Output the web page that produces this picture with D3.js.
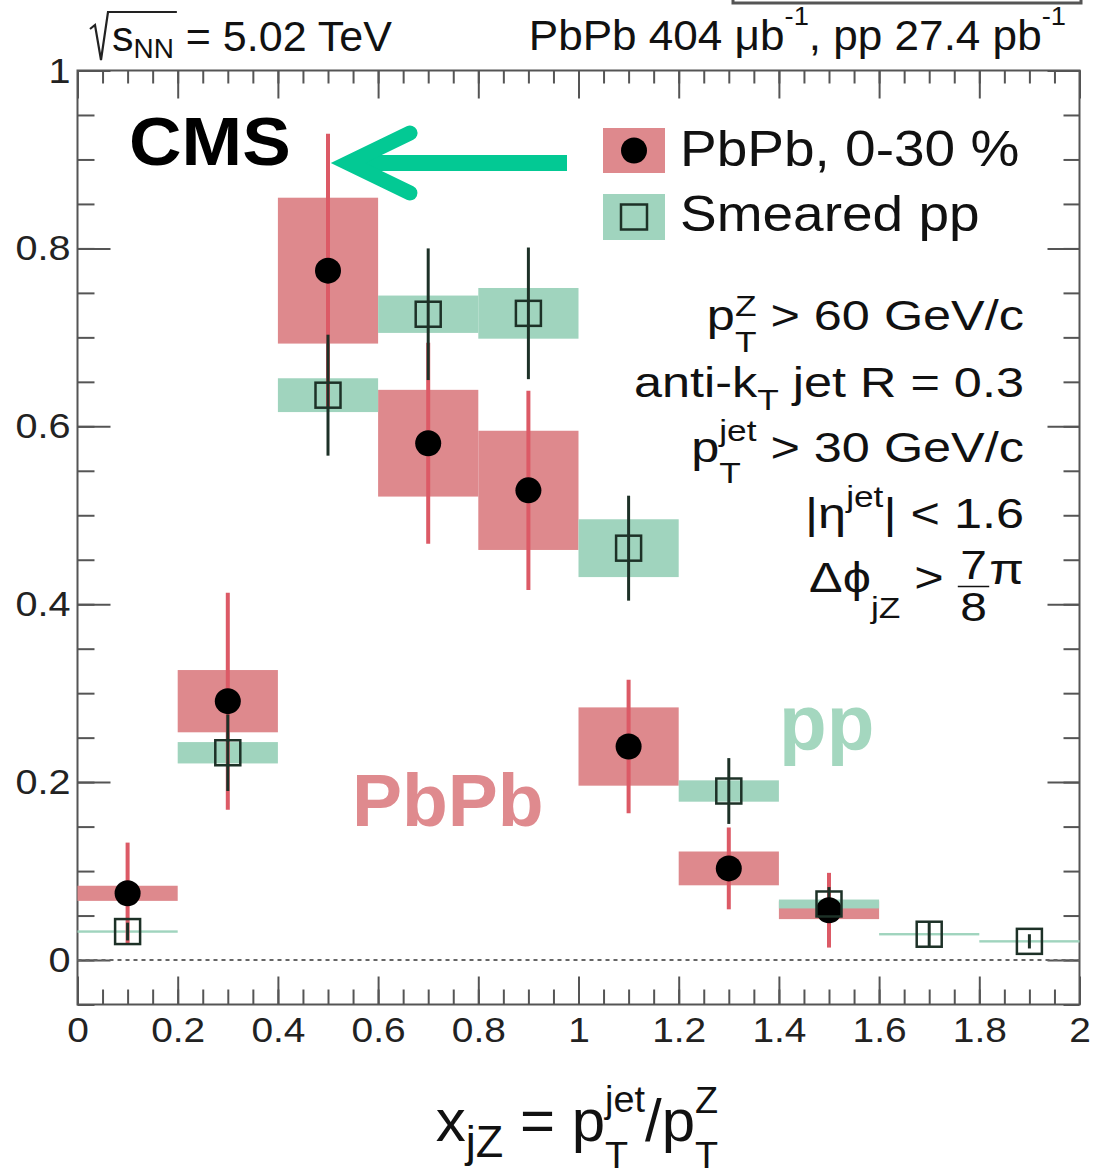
<!DOCTYPE html>
<html>
<head>
<meta charset="utf-8">
<script src="https://cdn.jsdelivr.net/npm/d3@7"></script>
<style>
  body { margin: 0; background: #fff; }
  svg { display: block; font-family: "Liberation Sans", Arial, Helvetica, sans-serif; }
</style>
</head>
<body>
<svg id="chart" width="1095" height="1170"></svg>
<script>
// ---------------------------------------------
// DATA
// ---------------------------------------------
var binCenters = [0.1, 0.3, 0.5, 0.7, 0.9, 1.1, 1.3, 1.5, 1.7, 1.9];
var binWidth = 0.2;

// PbPb 0-30 %  (first 8 bins)
var pbpbVal  = [0.075, 0.291, 0.775, 0.581, 0.528, 0.240, 0.103, 0.056];
var pbpbStat = [0.057, 0.122, 0.154, 0.113, 0.112, 0.075, 0.046, 0.042];
var pbpbSys  = [0.0085, 0.035, 0.082, 0.060, 0.067, 0.044, 0.019, 0.010];

// Smeared pp (all 10 bins)
var ppVal  = [0.032, 0.233, 0.635, 0.726, 0.727, 0.463, 0.190, 0.063, 0.029, 0.021];
var ppStat = [0.010, 0.043, 0.068, 0.074, 0.074, 0.059, 0.037, 0.019, 0.014, 0.008];
var ppSys  = [0.001, 0.012, 0.019, 0.021, 0.0285, 0.0325, 0.012, 0.005, 0.001, 0.001];

var xMajor = [0, 0.2, 0.4, 0.6, 0.8, 1, 1.2, 1.4, 1.6, 1.8, 2];
var yMajor = [0, 0.2, 0.4, 0.6, 0.8, 1];

var legendLabels = ["PbPb, 0-30 %", "Smeared pp"];

// ---------------------------------------------
// SETUP
// ---------------------------------------------
var svg = d3.select("#chart");
var frameL = 77.5, frameR = 1079.5, frameT = 70.5, frameB = 1004.5;

var x = d3.scaleLinear().domain([0, 2]).range([frameL, frameR]);
var y = d3.scaleLinear().domain([-0.05, 1]).range([frameB, frameT]);

var pinkBox = "#de898d", greenBox = "#a0d4be";
var redLine = "#dc5a66", darkLine = "#1d3127";

// rich text helper: plain strings, {sup, sub}, {frac}
function rich(parent, x0, y0, parts, o) {
  var fs = o.fs, sx = o.sx || 1;
  var g = parent.append("g").attr("font-size", fs).attr("fill", o.fill || "#111")
      .attr("font-weight", o.weight || "normal");
  var cx = 0, ends = [];
  parts.forEach(function(p) {
    if (typeof p === "string") {
      var t = g.append("text").attr("x", cx).attr("y", 0).attr("xml:space", "preserve").text(p);
      cx += t.node().getComputedTextLength();
    } else if (p.frac) {
      var s = (p.size || 1) * fs;
      var a = g.append("text").attr("y", p.numY * fs).attr("font-size", s).text(p.frac[0]);
      var b = g.append("text").attr("y", p.denY * fs).attr("font-size", s).text(p.frac[1]);
      var la = a.node().getComputedTextLength(), lb = b.node().getComputedTextLength();
      var w = Math.max(la, lb) + 4;
      a.attr("x", cx + (w - la) / 2);
      b.attr("x", cx + (w - lb) / 2);
      g.append("line").attr("x1", cx).attr("x2", cx + w)
        .attr("y1", p.barY * fs).attr("y2", p.barY * fs)
        .attr("stroke", o.fill || "#111").attr("stroke-width", 1.5);
      cx += w;
    } else if (p.raise !== undefined) {
      var t2 = g.append("text").attr("x", cx).attr("y", p.raise * fs).text(p.text);
      cx += t2.node().getComputedTextLength();
    } else {
      var w2 = 0, sz = (p.size || 0.7) * fs;
      if (p.sup) {
        var ts = g.append("text").attr("x", cx).attr("y", (p.supY !== undefined ? p.supY : -0.42) * fs)
          .attr("font-size", sz).text(p.sup);
        w2 = Math.max(w2, ts.node().getComputedTextLength());
      }
      if (p.sub) {
        var tb = g.append("text").attr("x", cx).attr("y", (p.subY !== undefined ? p.subY : 0.5) * fs)
          .attr("font-size", sz).text(p.sub);
        w2 = Math.max(w2, tb.node().getComputedTextLength());
      }
      cx += w2 + (p.gap || 0);
    }
    ends.push(cx);
  });
  var off = o.anchor === "end" ? -cx * sx : (o.anchor === "middle" ? -cx * sx / 2 : 0);
  g.attr("transform", "translate(" + (x0 + off) + "," + y0 + ") scale(" + sx + ",1)");
  return ends.map(function(e) { return x0 + off + e * sx; });
}

// ---------------------------------------------
// AXES + FRAME
// ---------------------------------------------
var xMinor = d3.range(0, 2.0001, 0.05);
var yMinor = d3.range(-0.05, 1.0001, 0.05);

function styleAxis(g) {
  g.select(".domain").remove();
  g.selectAll("line").attr("stroke", "#555").attr("stroke-width", 2);
  g.selectAll("text").attr("fill", "#222").attr("font-size", 36)
    .attr("font-family", "Liberation Sans, Arial, sans-serif");
}

svg.append("g").attr("transform", "translate(0," + frameB + ")")
  .call(d3.axisBottom(x).tickValues(xMinor).tickSize(-15).tickFormat("").tickSizeOuter(0)).call(styleAxis);
svg.append("g").attr("transform", "translate(0," + frameB + ")")
  .call(d3.axisBottom(x).tickValues(xMajor).tickSize(-28).tickPadding(12).tickFormat(d3.format("")).tickSizeOuter(0))
  .call(styleAxis)
  .selectAll("text").attr("transform", "scale(1.08,1)");
svg.append("g").attr("transform", "translate(0," + frameT + ")")
  .call(d3.axisTop(x).tickValues(xMinor).tickSize(-13).tickFormat("").tickSizeOuter(0)).call(styleAxis);
svg.append("g").attr("transform", "translate(0," + frameT + ")")
  .call(d3.axisTop(x).tickValues(xMajor).tickSize(-28).tickFormat("").tickSizeOuter(0)).call(styleAxis);

svg.append("g").attr("transform", "translate(" + frameL + ",0)")
  .call(d3.axisLeft(y).tickValues(yMinor).tickSize(-17).tickFormat("").tickSizeOuter(0)).call(styleAxis);
svg.append("g").attr("transform", "translate(" + frameL + ",0)")
  .call(d3.axisLeft(y).tickValues(yMajor).tickSize(-33).tickPadding(7).tickFormat(d3.format("")).tickSizeOuter(0))
  .call(styleAxis)
  .selectAll("text").attr("transform", "scale(1.1,1)").attr("x", -7 / 1.1);
svg.append("g").attr("transform", "translate(" + frameR + ",0)")
  .call(d3.axisRight(y).tickValues(yMinor).tickSize(-16).tickFormat("").tickSizeOuter(0)).call(styleAxis);
svg.append("g").attr("transform", "translate(" + frameR + ",0)")
  .call(d3.axisRight(y).tickValues(yMajor).tickSize(-32).tickFormat("").tickSizeOuter(0)).call(styleAxis);

svg.append("rect").attr("x", frameL).attr("y", frameT)
  .attr("width", frameR - frameL).attr("height", frameB - frameT)
  .attr("fill", "none").attr("stroke", "#555").attr("stroke-width", 2);

// zero line
svg.append("line").attr("x1", x(0)).attr("x2", x(2)).attr("y1", y(0)).attr("y2", y(0))
  .attr("stroke", "#666").attr("stroke-width", 2).attr("stroke-dasharray", "4,4");

// remnant of a box at the top right edge
svg.append("path").attr("d", "M733,0 V3 H1081 V0").attr("fill", "none")
  .attr("stroke", "#555").attr("stroke-width", 3);

// ---------------------------------------------
// DATA MARKS
// ---------------------------------------------
var pbpb = pbpbVal.map(function(v, i) { return { c: binCenters[i], v: v, st: pbpbStat[i], sy: pbpbSys[i] }; });
var pp = ppVal.map(function(v, i) { return { c: binCenters[i], v: v, st: ppStat[i], sy: ppSys[i] }; });

function boxes(data, color) {
  svg.append("g").selectAll("rect").data(data).enter().append("rect")
    .attr("x", d => x(d.c - binWidth / 2))
    .attr("width", d => x(d.c + binWidth / 2) - x(d.c - binWidth / 2))
    .attr("y", d => Math.min(y(d.v + d.sy), y(d.v) - 1.2))
    .attr("height", d => Math.max(y(d.v - d.sy) - y(d.v + d.sy), 2.4))
    .attr("fill", color);
}
function statBars(data, color, w) {
  svg.append("g").selectAll("line").data(data).enter().append("line")
    .attr("x1", d => x(d.c)).attr("x2", d => x(d.c))
    .attr("y1", d => y(d.v + d.st)).attr("y2", d => y(d.v - d.st))
    .attr("stroke", color).attr("stroke-width", w);
}

boxes(pbpb, pinkBox);
boxes(pp, greenBox);
statBars(pbpb, redLine, 4);
statBars(pp, darkLine, 3);

svg.append("g").selectAll("circle").data(pbpb).enter().append("circle")
  .attr("cx", d => x(d.c)).attr("cy", d => y(d.v)).attr("r", 13).attr("fill", "#000");

var sq = 25;
svg.append("g").selectAll("rect").data(pp).enter().append("rect")
  .attr("x", d => x(d.c) - sq / 2).attr("y", d => y(d.v) - sq / 2)
  .attr("width", sq).attr("height", sq)
  .attr("fill", "none").attr("stroke", darkLine).attr("stroke-width", 2.5);

// ---------------------------------------------
// LEGEND
// ---------------------------------------------
svg.append("rect").attr("x", 603).attr("y", 128).attr("width", 62).attr("height", 45).attr("fill", pinkBox);
svg.append("circle").attr("cx", 634).attr("cy", 150.5).attr("r", 13).attr("fill", "#000");
svg.append("rect").attr("x", 603).attr("y", 194).attr("width", 62).attr("height", 46).attr("fill", greenBox);
svg.append("rect").attr("x", 621).attr("y", 204.5).attr("width", 26).attr("height", 25)
  .attr("fill", "none").attr("stroke", darkLine).attr("stroke-width", 2.5);

rich(svg, 680, 166, [legendLabels[0]], { fs: 50, sx: 1.1 });
rich(svg, 680, 231, [legendLabels[1]], { fs: 50, sx: 1.1 });

// ---------------------------------------------
// TEXT
// ---------------------------------------------
var txtX = 1024, txtSx = 1.2;
rich(svg, txtX, 330, ["p", { sup: "Z", sub: "T", supY: -0.33, subY: 0.52 }, " > 60 GeV/c"], { fs: 42, sx: txtSx, anchor: "end" });
rich(svg, txtX, 397, ["anti-k", { sub: "T", subY: 0.3 }, " jet R = 0.3"], { fs: 42, sx: txtSx, anchor: "end" });
rich(svg, txtX, 462, ["p", { sup: "jet", sub: "T", supY: -0.5, subY: 0.5 }, " > 30 GeV/c"], { fs: 42, sx: txtSx, anchor: "end" });
rich(svg, txtX, 528, ["|η", { sup: "jet", supY: -0.5 }, "| < 1.6"], { fs: 42, sx: txtSx, anchor: "end" });
rich(svg, txtX, 592, ["Δϕ", { sub: "jZ", subY: 0.62 }, " > ", { frac: ["7", "8"], numY: -0.3, denY: 0.68, barY: -0.13, size: 0.95 },
  { raise: -0.2, text: "π" }], { fs: 42, sx: txtSx, anchor: "end" });

// CMS
svg.append("text").attr("font-size", 68).attr("font-weight", "bold")
  .attr("transform", "translate(129,165) scale(1.07,1)")
  .attr("fill", "#000").text("CMS");

// top labels
var sEnds = rich(svg, 112, 51, ["s", { sub: "NN", subY: 0.17, size: 0.65 }, " = 5.02 TeV"], { fs: 43 });
svg.append("path")
  .attr("d", "M90,29 L95,25 L101,60 L108,12 H" + (sEnds[1] + 3))
  .attr("fill", "none").attr("stroke", "#222").attr("stroke-width", 2.2);
rich(svg, 1066, 50, ["PbPb 404 μb", { sup: "-1", supY: -0.58, size: 0.62 }, ", pp 27.4 pb", { sup: "-1", supY: -0.58, size: 0.62 }],
  { fs: 43, sx: 1.025, anchor: "end" });

// axis title
rich(svg, 577, 1141, ["x", { sub: "jZ", subY: 0.27, size: 0.75 }, " = p", { sup: "jet", sub: "T", supY: -0.48, subY: 0.45, size: 0.63 },
  "/p", { sup: "Z", sub: "T", supY: -0.46, subY: 0.45, size: 0.63 }], { fs: 60, anchor: "middle" });

// annotations
svg.append("text").attr("x", 352).attr("y", 826).attr("font-size", 75).attr("font-weight", "bold")
  .attr("fill", "#df8a8e").text("PbPb");
svg.append("text").attr("x", 779).attr("y", 750).attr("font-size", 78).attr("font-weight", "bold")
  .attr("fill", "#a4d7bf").text("pp");

// arrow
var arrowCol = "#03c994";
svg.append("line").attr("x1", 567).attr("x2", 356).attr("y1", 163).attr("y2", 163)
  .attr("stroke", arrowCol).attr("stroke-width", 16);
svg.append("path").attr("d", "M410,133 L348,163 L410,193")
  .attr("fill", "none").attr("stroke", arrowCol).attr("stroke-width", 15)
  .attr("stroke-linecap", "round").attr("stroke-linejoin", "miter");
</script>
</body>
</html>
